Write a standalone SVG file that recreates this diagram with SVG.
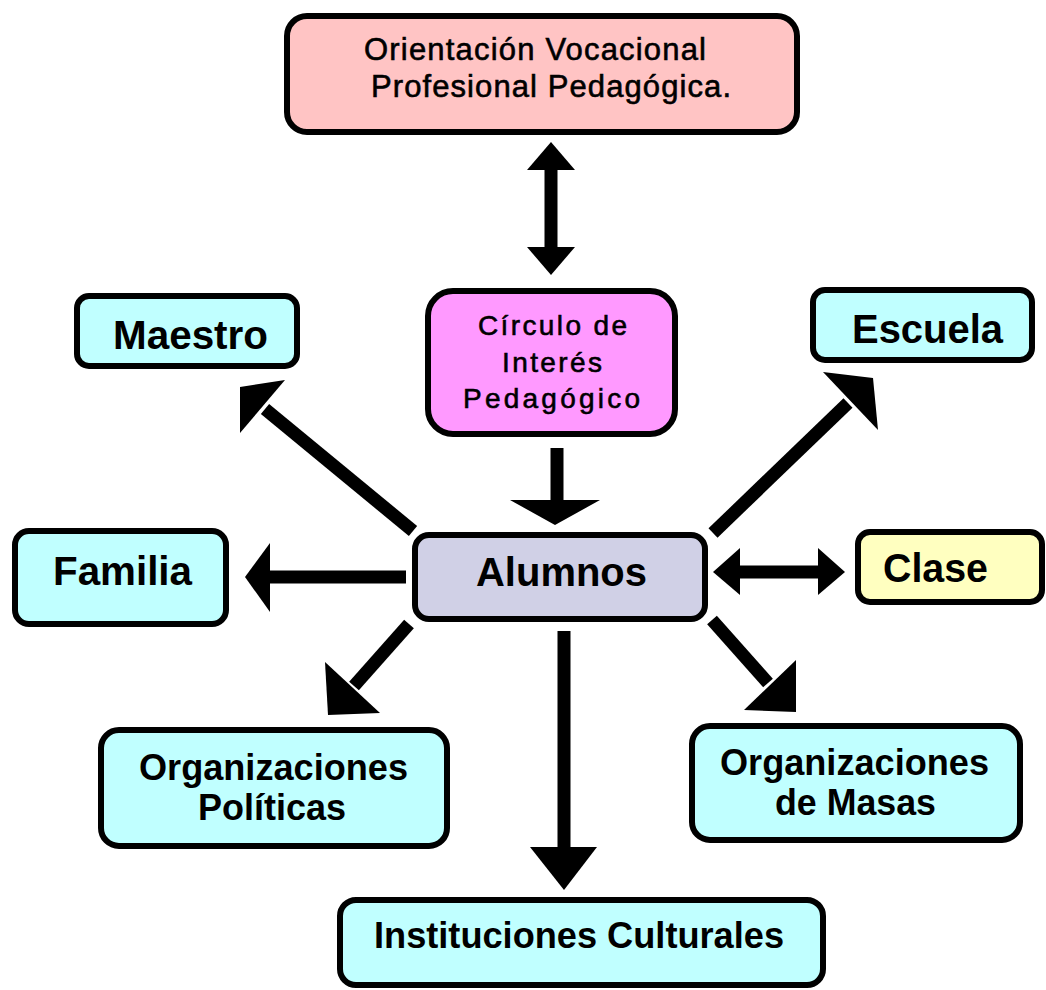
<svg xmlns="http://www.w3.org/2000/svg" width="1046" height="990" viewBox="0 0 1046 990">
<style>
.box{stroke:#000;stroke-width:6}
.cyan{fill:#C0FFFF}
.t{font-family:"Liberation Sans",Arial,sans-serif;fill:#000}
.m{stroke:#000;stroke-width:0.6}
.b{font-weight:bold}
.shaft{stroke:#000;stroke-width:13;fill:none}
.head{fill:#000}
</style>
<rect width="1046" height="990" fill="#fff"/>
<g id="connectors">
  <line class="shaft" x1="551" y1="165" x2="551" y2="252" stroke-width="11"/>
  <polygon class="head" points="551,142 575,170 527,170"/>
  <polygon class="head" points="551,275 575,247 527,247"/>
  <line class="shaft" x1="557" y1="448" x2="557" y2="503"/>
  <polygon class="head" points="510,500 600,500 555,525"/>
  <line class="shaft" x1="413" y1="531" x2="265" y2="409"/>
  <polygon class="head" points="285,380 240,387 240,433"/>
  <line class="shaft" x1="713" y1="533" x2="848" y2="403"/>
  <polygon class="head" points="823,372 873,378 878,430"/>
  <line class="shaft" x1="406" y1="577" x2="268" y2="577" stroke-width="14"/>
  <polygon class="head" points="245,577 270,543 270,612"/>
  <line class="shaft" x1="735" y1="572" x2="823" y2="572"/>
  <polygon class="head" points="713,572 740,548 740,595"/>
  <polygon class="head" points="845,572 818,548 818,595"/>
  <line class="shaft" x1="409" y1="624" x2="354" y2="686"/>
  <polygon class="head" points="325,662 380,713 328,715"/>
  <line class="shaft" x1="712" y1="620" x2="768" y2="683"/>
  <polygon class="head" points="796,660 744,710 796,712"/>
  <line class="shaft" x1="564" y1="631" x2="564" y2="850" stroke-width="15"/>
  <polygon class="head" points="530,847 597,847 564,890"/>
</g>
<g id="orientacion">
  <rect class="box" x="287" y="16" width="510" height="116" rx="20" fill="#FFC4C4"/>
  <text class="t m" x="364" y="60" font-size="31" textLength="342" lengthAdjust="spacing">Orientación Vocacional</text>
  <text class="t m" x="371" y="97" font-size="31" textLength="360" lengthAdjust="spacing">Profesional Pedagógica.</text>
</g>
<g id="circulo">
  <rect class="box" x="428" y="291" width="247" height="143" rx="25" fill="#FF99FF"/>
  <text class="t m" x="478" y="335" font-size="28" textLength="149" lengthAdjust="spacing">Círculo de</text>
  <text class="t m" x="502" y="372" font-size="28" textLength="100" lengthAdjust="spacing">Interés</text>
  <text class="t m" x="463" y="408" font-size="28" textLength="177" lengthAdjust="spacing">Pedagógico</text>
</g>
<g id="maestro">
  <rect class="box cyan" x="77" y="296" width="220" height="70" rx="12"/>
  <text class="t b" x="113" y="349" font-size="40" textLength="155" lengthAdjust="spacingAndGlyphs">Maestro</text>
</g>
<g id="escuela">
  <rect class="box cyan" x="813" y="290" width="219" height="70" rx="12"/>
  <text class="t b" x="852" y="343" font-size="40" textLength="151" lengthAdjust="spacingAndGlyphs">Escuela</text>
</g>
<g id="familia">
  <rect class="box cyan" x="15" y="531" width="211" height="93" rx="14"/>
  <text class="t b" x="53" y="585" font-size="40" textLength="139" lengthAdjust="spacingAndGlyphs">Familia</text>
</g>
<g id="alumnos">
  <rect class="box" x="415" y="535" width="290" height="84" rx="14" fill="#D0D0E6"/>
  <text class="t b" x="476" y="586" font-size="40" textLength="171" lengthAdjust="spacingAndGlyphs">Alumnos</text>
</g>
<g id="clase">
  <rect class="box" x="858" y="532" width="184" height="70" rx="12" fill="#FFFFC0"/>
  <text class="t b" x="883" y="582" font-size="40" textLength="105" lengthAdjust="spacingAndGlyphs">Clase</text>
</g>
<g id="org-politicas">
  <rect class="box cyan" x="101" y="730" width="346" height="116" rx="18"/>
  <text class="t b" x="139" y="780" font-size="36" textLength="269" lengthAdjust="spacingAndGlyphs">Organizaciones</text>
  <text class="t b" x="198" y="820" font-size="36" textLength="148" lengthAdjust="spacingAndGlyphs">Políticas</text>
</g>
<g id="org-masas">
  <rect class="box cyan" x="692" y="726" width="328" height="114" rx="18"/>
  <text class="t b" x="720" y="775" font-size="36" textLength="269" lengthAdjust="spacingAndGlyphs">Organizaciones</text>
  <text class="t b" x="775" y="815" font-size="36" textLength="161" lengthAdjust="spacingAndGlyphs">de Masas</text>
</g>
<g id="instituciones">
  <rect class="box cyan" x="340" y="900" width="483" height="85" rx="16"/>
  <text class="t b" x="374" y="948" font-size="36" textLength="410" lengthAdjust="spacingAndGlyphs">Instituciones Culturales</text>
</g>
</svg>
